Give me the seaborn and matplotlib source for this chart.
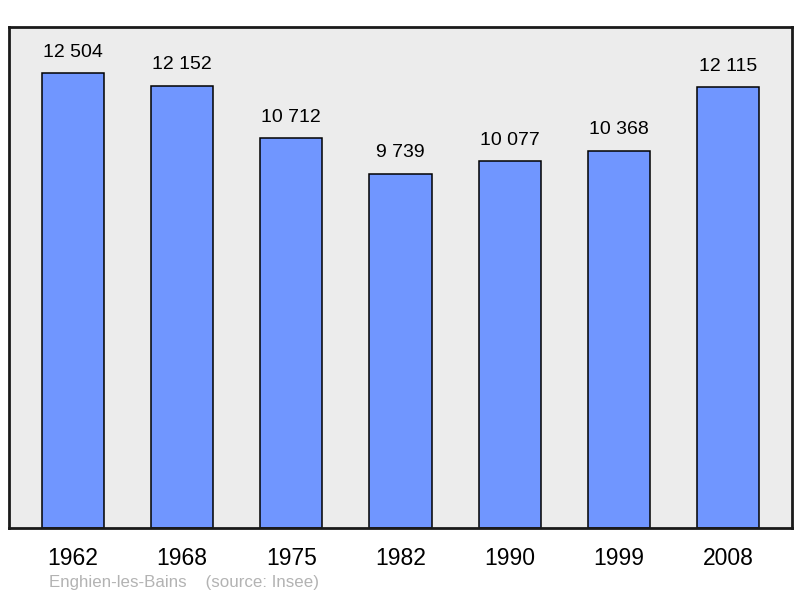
import matplotlib.pyplot as plt
import pandas as pd
import seaborn as sns

years = ["1962", "1968", "1975", "1982", "1990", "1999", "2008"]
population = [12504, 12152, 10712, 9739, 10077, 10368, 12115]
value_labels = ["12 504", "12 152", "10 712", "9 739", "10 077", "10 368", "12 115"]
town = "Enghien-les-Bains"
source = "(source: Insee)"


def main() -> None:
    sns.set_theme(style="white")
    plt.rcParams["font.family"] = ["Liberation Sans", "DejaVu Sans"]

    df = pd.DataFrame({"year": years, "population": population})

    fig = plt.figure(figsize=(8, 5.98), dpi=100)
    ax = fig.add_axes([0.01125, 0.1171, 0.97875, 0.8377])
    ax.set_facecolor("#ececec")

    sns.barplot(
        data=df,
        x="year",
        y="population",
        color="#7096ff",
        saturation=1,
        width=0.57,
        edgecolor="black",
        linewidth=1.1,
        ax=ax,
    )

    ax.set_xlim(-0.585, 6.585)
    ax.set_ylim(0, 13768)

    for i, (val, label) in enumerate(zip(population, value_labels)):
        ax.annotate(
            label,
            xy=(i, val),
            xytext=(0, 9),
            textcoords="offset points",
            ha="center",
            va="bottom",
            fontsize=14,
            color="black",
        )

    ax.set_yticks([])
    ax.set_xlabel("")
    ax.set_ylabel("")
    ax.tick_params(axis="x", length=0, pad=14, labelsize=16.5, colors="black")

    for spine in ax.spines.values():
        spine.set_visible(True)
        spine.set_color("#1a1a1a")
        spine.set_linewidth(2)

    fig.text(49 / 800, 1 - 583 / 598, town + "    " + source,
             color="#b3b3b3", fontsize=12.2, ha="left", va="center")

    fig.savefig("out.png", dpi=100)
    plt.close(fig)


if __name__ == "__main__":
    main()
